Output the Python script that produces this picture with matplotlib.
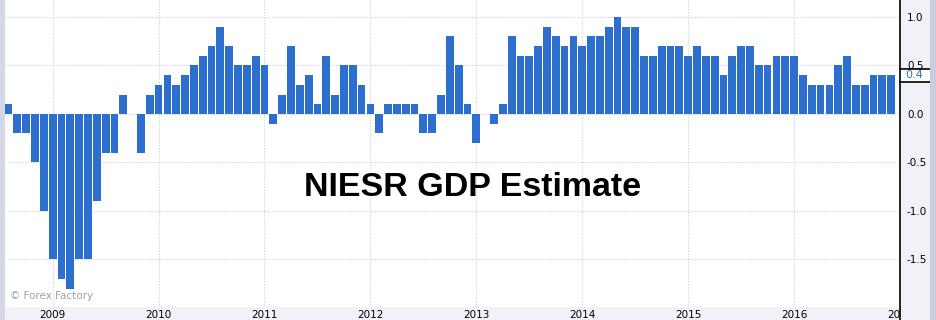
import matplotlib
matplotlib.use("Agg")
import matplotlib.pyplot as plt
from matplotlib.patches import Rectangle
from matplotlib.transforms import Bbox, TransformedBbox, blended_transform_factory

# monthly NIESR GDP estimate, Aug 2008 .. Dec 2016
start_year = 2008
start_month = 8
gdp = [0.1, -0.2, -0.2, -0.5, -1.0,
       -1.5, -1.7, -1.8, -1.5, -1.5, -0.9, -0.4, -0.4, 0.2, 0.0, -0.4, 0.2,
       0.3, 0.4, 0.3, 0.4, 0.5, 0.6, 0.7, 0.9, 0.7, 0.5, 0.5, 0.6,
       0.5, -0.1, 0.2, 0.7, 0.3, 0.4, 0.1, 0.6, 0.2, 0.5, 0.5, 0.3,
       0.1, -0.2, 0.1, 0.1, 0.1, 0.1, -0.2, -0.2, 0.2, 0.8, 0.5, 0.1,
       -0.3, 0.0, -0.1, 0.1, 0.8, 0.6, 0.6, 0.7, 0.9, 0.8, 0.7, 0.8,
       0.7, 0.8, 0.8, 0.9, 1.0, 0.9, 0.9, 0.6, 0.6, 0.7, 0.7, 0.7,
       0.6, 0.7, 0.6, 0.6, 0.4, 0.6, 0.7, 0.7, 0.5, 0.5, 0.6, 0.6,
       0.6, 0.4, 0.3, 0.3, 0.3, 0.5, 0.6, 0.3, 0.3, 0.4, 0.4, 0.4]
years = [2009, 2010, 2011, 2012, 2013, 2014, 2015, 2016, 2017]
y_ticks = [1.0, 0.5, 0.0, -0.5, -1.0, -1.5]
latest = 0.4

bar_color = "#2c6fce"
grid_color = "#c9cdea"

W, H = 937, 320
fig = plt.figure(figsize=(W / 100, H / 100), dpi=100)
fig.patch.set_facecolor("#f1f2f8")
# grey side borders
fig.patches.append(Rectangle((930 / W, 0), 7 / W, 1, transform=fig.transFigure,
                             facecolor="#c8cde0", edgecolor="none"))
fig.patches.append(Rectangle((0, 0), 5 / W, 1, transform=fig.transFigure,
                             facecolor="#d3d7e6", edgecolor="none"))

ax = fig.add_axes([5 / W, 13 / H, 895 / W, 307 / H])
ax.set_facecolor("white")

x = list(range(len(gdp)))
ax.bar(x, gdp, width=0.88, color=bar_color, zorder=3)

ax.set_xlim(-0.4, 100.6)
ax.set_ylim(-1.99, 1.175)

tick_pos = [(y - start_year) * 12 + 1 - start_month for y in years]
ax.set_xticks(tick_pos)
ax.set_xticklabels([str(y) for y in years])
ax.set_yticks(y_ticks)
ax.set_yticklabels(["%.1f" % v for v in y_ticks])
ax.yaxis.tick_right()
ax.tick_params(axis="both", length=0, labelsize=7.5, colors="black")
ax.tick_params(axis="x", pad=2)
ax.tick_params(axis="y", pad=5)

ax.grid(True, color=grid_color, linestyle=(0, (1, 1.5)), linewidth=0.8, zorder=0)

for s in ["top", "left", "bottom", "right"]:
    ax.spines[s].set_visible(False)
fig.add_artist(plt.Line2D([900 / W, 900 / W], [0, 1], transform=fig.transFigure,
                          color="black", linewidth=1.2))

# last tick label is cut by the axis edge
clip = TransformedBbox(Bbox([[0, 0], [900 / W, 1]]), fig.transFigure)
for lbl in ax.get_xticklabels():
    lbl.set_clip_box(clip)
    lbl.set_clip_on(True)

# current value marker on the right axis
tr = blended_transform_factory(ax.transAxes, ax.transData)
bw = 30 / 895
ax.add_patch(Rectangle((1, latest - 0.067), bw, 0.134, transform=tr,
                       facecolor="white", edgecolor="none", clip_on=False, zorder=5))
ax.plot([1, 1 + bw], [latest + 0.067, latest + 0.067], transform=tr,
        color="black", linewidth=1.2, clip_on=False, zorder=6)
ax.plot([1, 1 + bw], [latest - 0.067, latest - 0.067], transform=tr,
        color="black", linewidth=1.2, clip_on=False, zorder=6)
ax.text(1 + 5 / 895, latest, "%.1f" % latest, transform=tr, color="#2c6fce",
        fontsize=8, va="center", ha="left", zorder=7, clip_on=False)

ax.text(0.522, 0.39, "NIESR GDP Estimate", transform=ax.transAxes,
        fontsize=24.5, fontweight="bold", family="Liberation Sans",
        ha="center", va="center", zorder=4)
ax.text(0.006, 0.035, "\u00a9 Forex Factory", transform=ax.transAxes,
        fontsize=7.5, color="#a0a0a0", ha="left", va="center", zorder=4)

fig.savefig("out.png", dpi=100, facecolor=fig.get_facecolor())
